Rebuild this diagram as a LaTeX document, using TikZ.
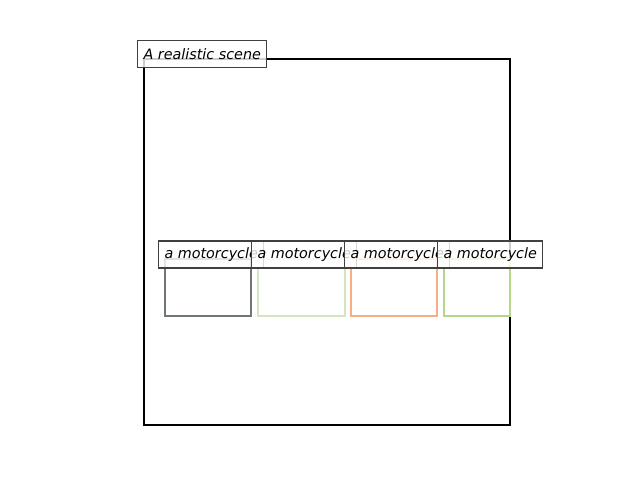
\documentclass[tikz,border=0pt]{standalone}
\usepackage{fontspec}
\setmainfont{DejaVu Sans}
\definecolor{boxgrey}{HTML}{6E7676}
\definecolor{boxpale}{HTML}{D4E5C0}
\definecolor{boxorange}{HTML}{F8AE83}
\definecolor{boxgreen}{HTML}{B4D88A}
\tikzset{
  region/.style={line width=1.5pt},
  tag/.style={draw=black!75, line width=0.8pt, fill=white, fill opacity=0.8, text opacity=1,
    anchor=west, inner xsep=4.5pt, inner ysep=0pt, minimum height=20.25pt,
    font=\fontsize{10.75}{12}\selectfont\itshape}
}
\begin{document}
\begin{tikzpicture}[x=0.75pt,y=-0.75pt]
        \useasboundingbox (0,0) rectangle (640,480);
        % scene frame
        \draw[region, black] (144,59) rectangle (510,425);
        % motorcycle boxes
        \draw[region, boxgrey] (165,259) rectangle (251,316);
        \draw[region, boxpale] (258,259) rectangle (345,316);
        \draw[region, boxorange] (351,259) rectangle (437,316);
        \draw[region, boxgreen] (444,259) rectangle (510,316);
        % labels
        \node[tag] (scene) at (137,54) {A realistic scene};
        \node[tag] (moto1) at (158,254.5) {a motorcycle};
        \node[tag] (moto2) at (251,254.5) {a motorcycle};
        \node[tag] (moto3) at (344,254.5) {a motorcycle};
        \node[tag] (moto4) at (437,254.5) {a motorcycle};
    \end{tikzpicture}
\end{document}
